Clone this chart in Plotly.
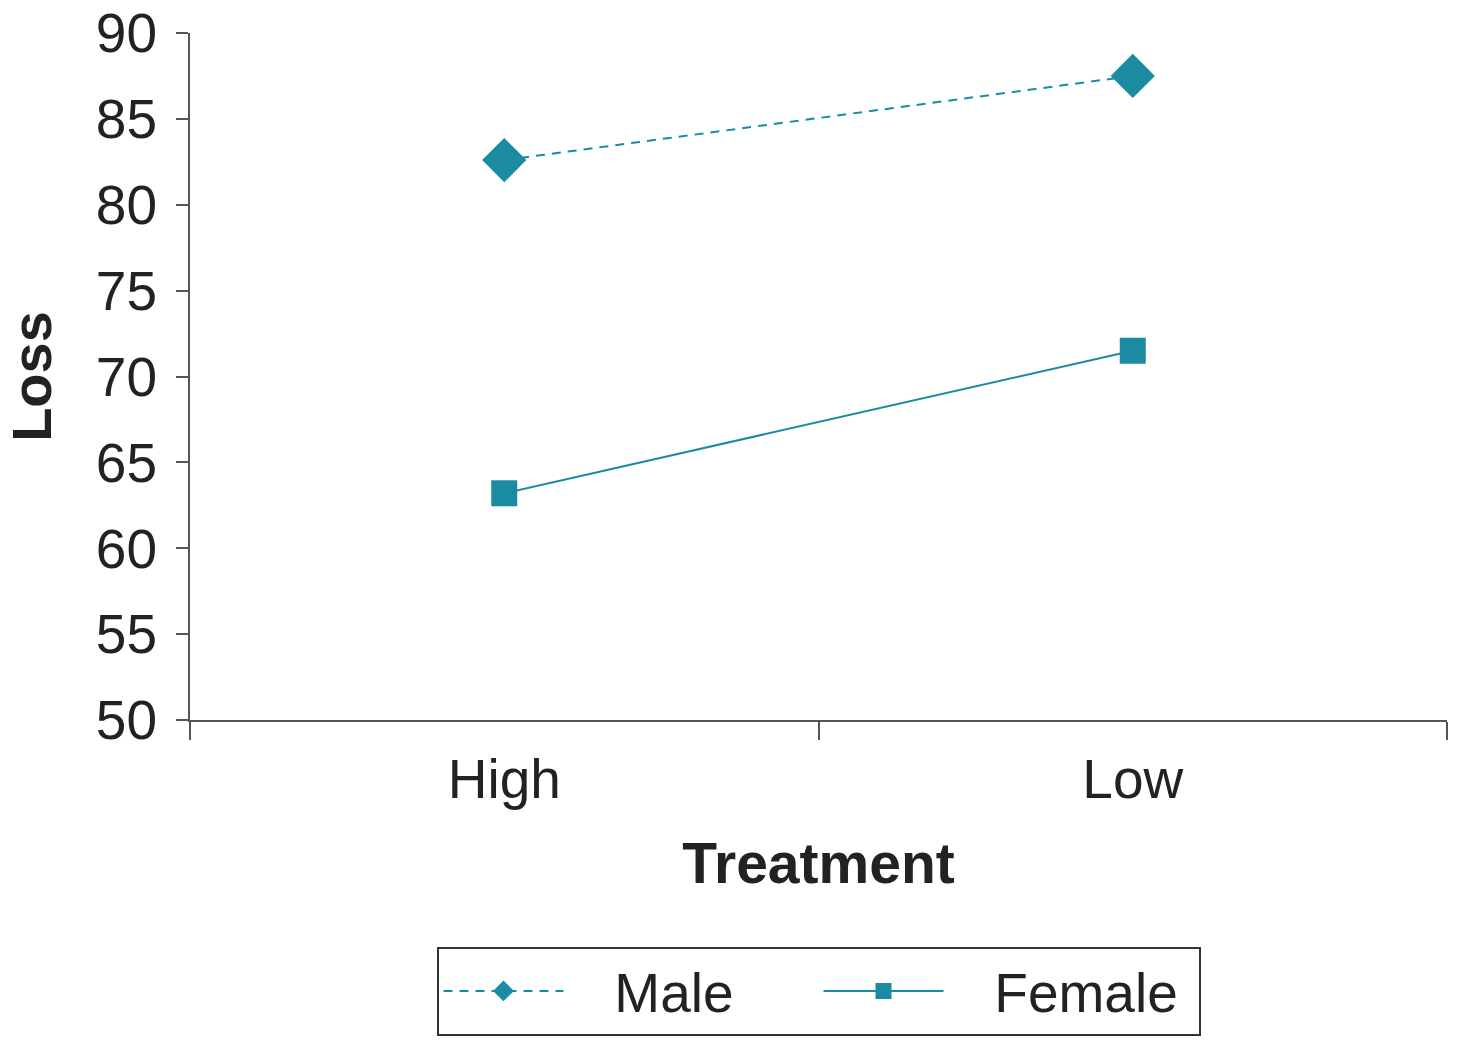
import plotly.graph_objects as go

treatment = ["High", "Low"]
male_loss = [82.6, 87.5]
female_loss = [63.2, 71.5]

teal = "#1a8ba0"
axis_grey = "#555555"
pad = "&nbsp;" * 3  # gap between legend symbol and legend text

fig = go.Figure()
fig.add_trace(go.Scatter(
    x=treatment, y=male_loss, name=pad + "Male",
    mode="lines+markers",
    line=dict(color=teal, width=2, dash="9px,7px"),
    marker=dict(symbol="diamond", size=34, color=teal),
))
fig.add_trace(go.Scatter(
    x=treatment, y=female_loss, name=pad + "Female",
    mode="lines+markers",
    line=dict(color=teal, width=2),
    marker=dict(symbol="square", size=26, color=teal),
))

fig.update_layout(
    width=1457, height=1048,
    margin=dict(l=190, r=10, t=33, b=328),
    paper_bgcolor="white", plot_bgcolor="white",
    font=dict(family="Liberation Sans, Arial, sans-serif", size=55, color="#222222"),
    showlegend=True,
    legend=dict(
        orientation="h", x=0.5, xanchor="center", y=-0.33, yanchor="top",
        bordercolor="#333333", borderwidth=2, bgcolor="white",
        font=dict(size=55), itemwidth=120, entrywidth=245,
    ),
)
fig.update_xaxes(
    type="category", range=[-0.5, 1.5], automargin=False,
    showline=True, linecolor=axis_grey, linewidth=2,
    ticks="outside", tickson="boundaries", ticklen=18, tickcolor=axis_grey, tickwidth=2,
    ticklabelstandoff=10,
    showgrid=False, zeroline=False,
    title=dict(text="<b>Treatment</b>", standoff=34, font=dict(size=57)),
)
fig.update_yaxes(
    range=[50, 90], dtick=5, automargin=False,
    showline=True, linecolor=axis_grey, linewidth=2,
    ticks="outside", ticklen=12, tickcolor=axis_grey, tickwidth=2,
    ticklabelstandoff=8, ticklabeloverflow="allow",
    showgrid=False, zeroline=False,
    title=dict(text="<b>Loss</b>", standoff=30, font=dict(size=56)),
)

# drop the default 8px body margin so the figure fills the window exactly
fig.write_html("out.html", config={"displayModeBar": False},
               post_script="document.body.style.margin='0';")
